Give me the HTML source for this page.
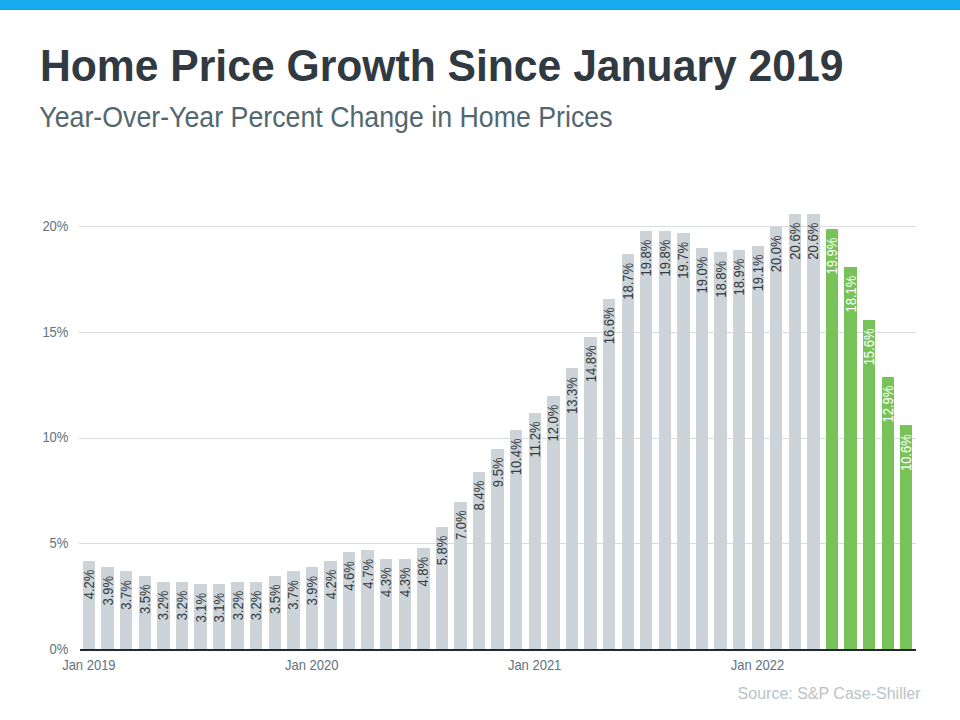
<!DOCTYPE html>
<html><head><meta charset="utf-8"><style>
html,body{margin:0;padding:0;background:#fff;}
body{width:960px;height:720px;position:relative;overflow:hidden;font-family:"Liberation Sans",Arial,sans-serif;}
svg{position:absolute;left:0;top:0;}
text{font-family:"Liberation Sans",Arial,sans-serif;}
.yl{font-size:13px;fill:#617280;}
.xl{font-size:13px;fill:#617280;}
.bl{font-size:13px;}
.src{font-size:16px;fill:#b9c3c8;}
</style></head><body>
<svg width="960" height="720" viewBox="0 0 960 720">
<rect x="0" y="0" width="960" height="9" fill="#16aaee"/>
<rect x="0" y="9" width="960" height="1" fill="#0ba5ea"/>
<text class="t" fill="#313941" font-size="42.66" font-weight="bold" transform="translate(40,81) scale(1,1.06)">Home Price Growth Since January 2019</text>
<text class="t" fill="#53676f" font-size="26.75" transform="translate(39.3,127) scale(1,1.11)">Year-Over-Year Percent Change in Home Prices</text>
<rect x="79" y="226" width="837" height="1" fill="#d6dcdf"/>
<rect x="79" y="332" width="837" height="1" fill="#d6dcdf"/>
<rect x="79" y="438" width="837" height="1" fill="#d6dcdf"/>
<rect x="79" y="543" width="837" height="1" fill="#d6dcdf"/>
<text class="yl" text-anchor="end" transform="translate(68.4,654) scale(1,1.1)">0%</text>
<text class="yl" text-anchor="end" transform="translate(68.4,548) scale(1,1.1)">5%</text>
<text class="yl" text-anchor="end" transform="translate(68.4,442) scale(1,1.1)">10%</text>
<text class="yl" text-anchor="end" transform="translate(68.4,337) scale(1,1.1)">15%</text>
<text class="yl" text-anchor="end" transform="translate(68.4,231) scale(1,1.1)">20%</text>
<rect x="83" y="561" width="12" height="88" fill="#cdd4d9"/>
<text class="bl" fill="#333a40" text-anchor="end" transform="translate(94.06,569.59) rotate(-90) scale(1,1.1)">4.2%</text>
<rect x="101" y="567" width="13" height="82" fill="#cdd4d9"/>
<text class="bl" fill="#333a40" text-anchor="end" transform="translate(112.63,575.93) rotate(-90) scale(1,1.1)">3.9%</text>
<rect x="120" y="571" width="12" height="78" fill="#cdd4d9"/>
<text class="bl" fill="#333a40" text-anchor="end" transform="translate(131.21,580.16) rotate(-90) scale(1,1.1)">3.7%</text>
<rect x="139" y="576" width="12" height="73" fill="#cdd4d9"/>
<text class="bl" fill="#333a40" text-anchor="end" transform="translate(149.78,584.39) rotate(-90) scale(1,1.1)">3.5%</text>
<rect x="157" y="582" width="13" height="67" fill="#cdd4d9"/>
<text class="bl" fill="#333a40" text-anchor="end" transform="translate(168.35,590.73) rotate(-90) scale(1,1.1)">3.2%</text>
<rect x="176" y="582" width="12" height="67" fill="#cdd4d9"/>
<text class="bl" fill="#333a40" text-anchor="end" transform="translate(186.93,590.73) rotate(-90) scale(1,1.1)">3.2%</text>
<rect x="194" y="584" width="13" height="65" fill="#cdd4d9"/>
<text class="bl" fill="#333a40" text-anchor="end" transform="translate(205.50,592.85) rotate(-90) scale(1,1.1)">3.1%</text>
<rect x="213" y="584" width="12" height="65" fill="#cdd4d9"/>
<text class="bl" fill="#333a40" text-anchor="end" transform="translate(224.07,592.85) rotate(-90) scale(1,1.1)">3.1%</text>
<rect x="231" y="582" width="13" height="67" fill="#cdd4d9"/>
<text class="bl" fill="#333a40" text-anchor="end" transform="translate(242.65,590.73) rotate(-90) scale(1,1.1)">3.2%</text>
<rect x="250" y="582" width="12" height="67" fill="#cdd4d9"/>
<text class="bl" fill="#333a40" text-anchor="end" transform="translate(261.22,590.73) rotate(-90) scale(1,1.1)">3.2%</text>
<rect x="269" y="576" width="12" height="73" fill="#cdd4d9"/>
<text class="bl" fill="#333a40" text-anchor="end" transform="translate(279.79,584.39) rotate(-90) scale(1,1.1)">3.5%</text>
<rect x="287" y="571" width="13" height="78" fill="#cdd4d9"/>
<text class="bl" fill="#333a40" text-anchor="end" transform="translate(298.37,580.16) rotate(-90) scale(1,1.1)">3.7%</text>
<rect x="306" y="567" width="12" height="82" fill="#cdd4d9"/>
<text class="bl" fill="#333a40" text-anchor="end" transform="translate(316.94,575.93) rotate(-90) scale(1,1.1)">3.9%</text>
<rect x="324" y="561" width="13" height="88" fill="#cdd4d9"/>
<text class="bl" fill="#333a40" text-anchor="end" transform="translate(335.51,569.59) rotate(-90) scale(1,1.1)">4.2%</text>
<rect x="343" y="552" width="12" height="97" fill="#cdd4d9"/>
<text class="bl" fill="#333a40" text-anchor="end" transform="translate(354.09,561.13) rotate(-90) scale(1,1.1)">4.6%</text>
<rect x="361" y="550" width="13" height="99" fill="#cdd4d9"/>
<text class="bl" fill="#333a40" text-anchor="end" transform="translate(372.66,559.01) rotate(-90) scale(1,1.1)">4.7%</text>
<rect x="380" y="559" width="12" height="90" fill="#cdd4d9"/>
<text class="bl" fill="#333a40" text-anchor="end" transform="translate(391.23,567.47) rotate(-90) scale(1,1.1)">4.3%</text>
<rect x="399" y="559" width="12" height="90" fill="#cdd4d9"/>
<text class="bl" fill="#333a40" text-anchor="end" transform="translate(409.81,567.47) rotate(-90) scale(1,1.1)">4.3%</text>
<rect x="417" y="548" width="13" height="101" fill="#cdd4d9"/>
<text class="bl" fill="#333a40" text-anchor="end" transform="translate(428.38,556.90) rotate(-90) scale(1,1.1)">4.8%</text>
<rect x="436" y="527" width="12" height="122" fill="#cdd4d9"/>
<text class="bl" fill="#333a40" text-anchor="end" transform="translate(446.95,535.75) rotate(-90) scale(1,1.1)">5.8%</text>
<rect x="454" y="502" width="13" height="147" fill="#cdd4d9"/>
<text class="bl" fill="#333a40" text-anchor="end" transform="translate(465.53,510.38) rotate(-90) scale(1,1.1)">7.0%</text>
<rect x="473" y="472" width="12" height="177" fill="#cdd4d9"/>
<text class="bl" fill="#333a40" text-anchor="end" transform="translate(484.10,480.77) rotate(-90) scale(1,1.1)">8.4%</text>
<rect x="491" y="449" width="13" height="200" fill="#cdd4d9"/>
<text class="bl" fill="#333a40" text-anchor="end" transform="translate(502.67,457.51) rotate(-90) scale(1,1.1)">9.5%</text>
<rect x="510" y="430" width="12" height="219" fill="#cdd4d9"/>
<text class="bl" fill="#333a40" text-anchor="end" transform="translate(521.25,438.48) rotate(-90) scale(1,1.1)">10.4%</text>
<rect x="529" y="413" width="12" height="236" fill="#cdd4d9"/>
<text class="bl" fill="#333a40" text-anchor="end" transform="translate(539.82,421.56) rotate(-90) scale(1,1.1)">11.2%</text>
<rect x="547" y="396" width="13" height="253" fill="#cdd4d9"/>
<text class="bl" fill="#333a40" text-anchor="end" transform="translate(558.39,404.65) rotate(-90) scale(1,1.1)">12.0%</text>
<rect x="566" y="368" width="12" height="281" fill="#cdd4d9"/>
<text class="bl" fill="#333a40" text-anchor="end" transform="translate(576.97,377.16) rotate(-90) scale(1,1.1)">13.3%</text>
<rect x="584" y="337" width="13" height="312" fill="#cdd4d9"/>
<text class="bl" fill="#333a40" text-anchor="end" transform="translate(595.54,345.44) rotate(-90) scale(1,1.1)">14.8%</text>
<rect x="603" y="299" width="12" height="350" fill="#cdd4d9"/>
<text class="bl" fill="#333a40" text-anchor="end" transform="translate(614.11,307.38) rotate(-90) scale(1,1.1)">16.6%</text>
<rect x="622" y="254" width="12" height="395" fill="#cdd4d9"/>
<text class="bl" fill="#333a40" text-anchor="end" transform="translate(632.69,262.97) rotate(-90) scale(1,1.1)">18.7%</text>
<rect x="640" y="231" width="12" height="418" fill="#cdd4d9"/>
<text class="bl" fill="#333a40" text-anchor="end" transform="translate(651.26,239.71) rotate(-90) scale(1,1.1)">19.8%</text>
<rect x="659" y="231" width="12" height="418" fill="#cdd4d9"/>
<text class="bl" fill="#333a40" text-anchor="end" transform="translate(669.83,239.71) rotate(-90) scale(1,1.1)">19.8%</text>
<rect x="677" y="233" width="13" height="416" fill="#cdd4d9"/>
<text class="bl" fill="#333a40" text-anchor="end" transform="translate(688.41,241.82) rotate(-90) scale(1,1.1)">19.7%</text>
<rect x="696" y="248" width="12" height="401" fill="#cdd4d9"/>
<text class="bl" fill="#333a40" text-anchor="end" transform="translate(706.98,256.63) rotate(-90) scale(1,1.1)">19.0%</text>
<rect x="714" y="252" width="13" height="397" fill="#cdd4d9"/>
<text class="bl" fill="#333a40" text-anchor="end" transform="translate(725.55,260.86) rotate(-90) scale(1,1.1)">18.8%</text>
<rect x="733" y="250" width="12" height="399" fill="#cdd4d9"/>
<text class="bl" fill="#333a40" text-anchor="end" transform="translate(744.13,258.74) rotate(-90) scale(1,1.1)">18.9%</text>
<rect x="752" y="246" width="12" height="403" fill="#cdd4d9"/>
<text class="bl" fill="#333a40" text-anchor="end" transform="translate(762.70,254.51) rotate(-90) scale(1,1.1)">19.1%</text>
<rect x="770" y="227" width="12" height="422" fill="#cdd4d9"/>
<text class="bl" fill="#333a40" text-anchor="end" transform="translate(781.27,235.48) rotate(-90) scale(1,1.1)">20.0%</text>
<rect x="789" y="214" width="12" height="435" fill="#cdd4d9"/>
<text class="bl" fill="#333a40" text-anchor="end" transform="translate(799.85,222.79) rotate(-90) scale(1,1.1)">20.6%</text>
<rect x="807" y="214" width="13" height="435" fill="#cdd4d9"/>
<text class="bl" fill="#333a40" text-anchor="end" transform="translate(818.42,222.79) rotate(-90) scale(1,1.1)">20.6%</text>
<rect x="826" y="229" width="12" height="420" fill="#77c35a"/>
<text class="bl" fill="#ffffff" text-anchor="end" transform="translate(836.99,237.59) rotate(-90) scale(1,1.1)">19.9%</text>
<rect x="844" y="267" width="13" height="382" fill="#77c35a"/>
<text class="bl" fill="#ffffff" text-anchor="end" transform="translate(855.57,275.66) rotate(-90) scale(1,1.1)">18.1%</text>
<rect x="863" y="320" width="12" height="329" fill="#77c35a"/>
<text class="bl" fill="#ffffff" text-anchor="end" transform="translate(874.14,328.52) rotate(-90) scale(1,1.1)">15.6%</text>
<rect x="882" y="377" width="12" height="272" fill="#77c35a"/>
<text class="bl" fill="#ffffff" text-anchor="end" transform="translate(892.71,385.62) rotate(-90) scale(1,1.1)">12.9%</text>
<rect x="900" y="425" width="12" height="224" fill="#77c35a"/>
<text class="bl" fill="#ffffff" text-anchor="end" transform="translate(911.29,434.25) rotate(-90) scale(1,1.1)">10.6%</text>
<rect x="80" y="649" width="836" height="2" fill="#1f2930"/>
<text class="xl" text-anchor="middle" transform="translate(88.86,670) scale(1,1.1)">Jan 2019</text>
<text class="xl" text-anchor="middle" transform="translate(311.74,670) scale(1,1.1)">Jan 2020</text>
<text class="xl" text-anchor="middle" transform="translate(534.62,670) scale(1,1.1)">Jan 2021</text>
<text class="xl" text-anchor="middle" transform="translate(757.50,670) scale(1,1.1)">Jan 2022</text>
<text class="src" text-anchor="end" x="920.5" y="699">Source: S&amp;P Case-Shiller</text>
</svg>
</body></html>
